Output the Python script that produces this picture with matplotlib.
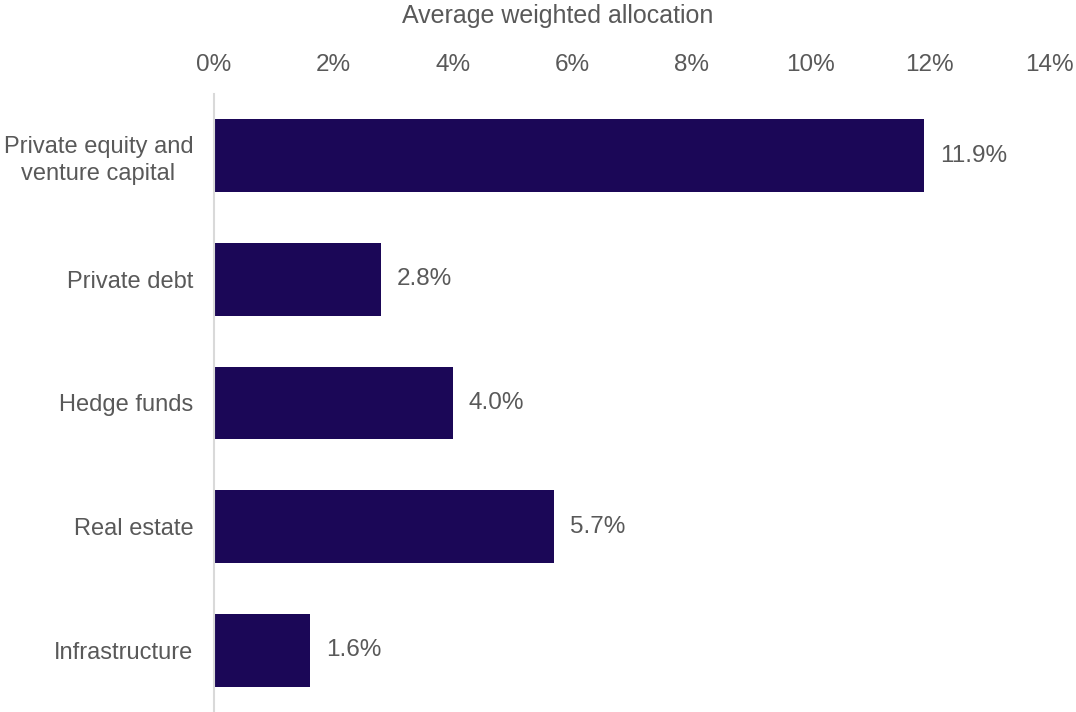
import matplotlib.pyplot as plt
from matplotlib.ticker import FuncFormatter, MultipleLocator

categories = ['Private equity and\nventure capital', 'Private debt', 'Hedge funds',
              'Real estate', 'Infrastructure']
values = [11.9, 2.8, 4.0, 5.7, 1.6]

bar_color = '#1B0757'
text_color = '#595959'

plt.rcParams['font.family'] = ['Liberation Sans', 'DejaVu Sans']

fig = plt.figure(figsize=(10.76, 7.12), dpi=100)
ax = fig.add_axes([0.199, 0.0, 0.776, 0.868])

y = list(range(len(categories)))
ax.barh(y, values, height=0.59, color=bar_color)
for yi, v in zip(y, values):
    ax.text(v + 0.27, yi, f'{v:.1f}%', va='center', ha='left', fontsize=17.5, color=text_color)

ax.set_xlim(0, 14)
ax.set_ylim(4.5, -0.5)
ax.xaxis.set_major_locator(MultipleLocator(2))
ax.xaxis.set_major_formatter(FuncFormatter(lambda x, _: f'{x:.0f}%'))
ax.xaxis.tick_top()
fig.text(0.518, 0.977, 'Average weighted allocation', ha='center', va='center',
         fontsize=18, color=text_color)

ax.set_yticks(y)
ax.set_yticklabels(categories, fontsize=17, color=text_color,
                   multialignment='center', linespacing=1.3)
ax.tick_params(axis='x', length=0, pad=13, labelsize=17.5, labelcolor=text_color)
ax.tick_params(axis='y', length=0, pad=15)

for s in ['top', 'right', 'bottom']:
    ax.spines[s].set_visible(False)
ax.spines['left'].set_color('#D9D9D9')
ax.spines['left'].set_linewidth(1.5)

fig.savefig('out.png', dpi=100)
